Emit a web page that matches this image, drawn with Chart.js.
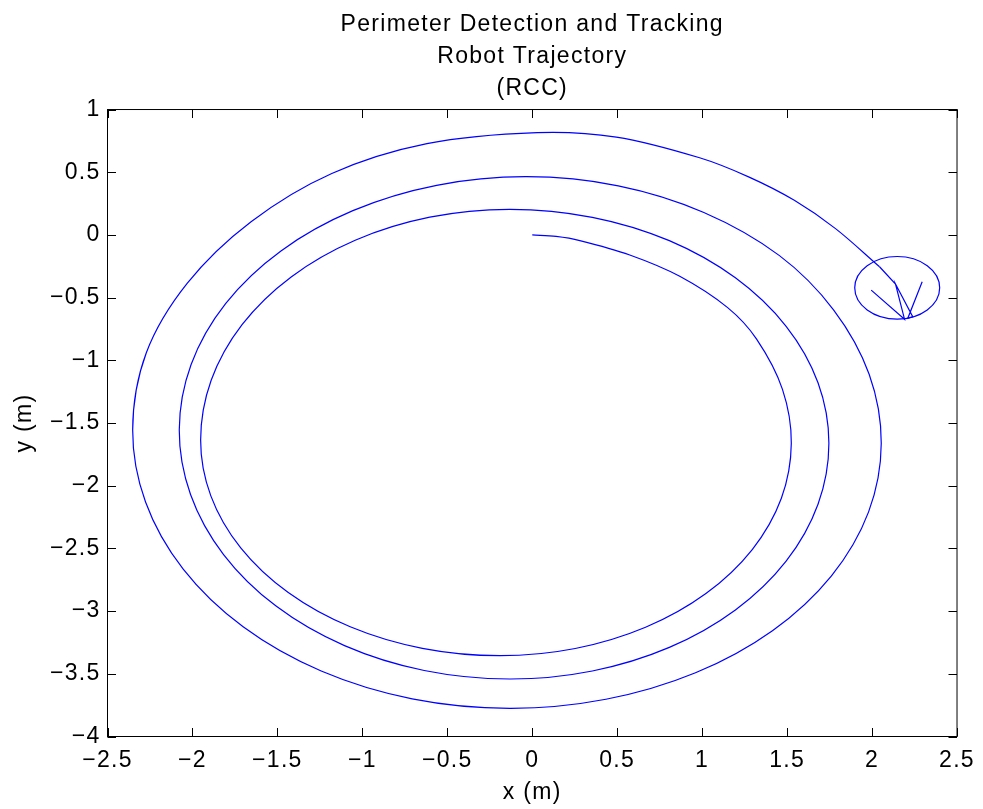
<!DOCTYPE html>
<html>
<head>
<meta charset="utf-8">
<title>Perimeter Detection and Tracking</title>
<script src="https://cdn.jsdelivr.net/npm/chart.js@4/dist/chart.umd.min.js"></script>
<style>
  html, body { margin: 0; padding: 0; background: #ffffff; overflow: hidden; }
  canvas { display: block; }
</style>
</head>
<body>
<canvas id="chart" width="983" height="809"></canvas>
<script>
// Robot path while it spirals outward searching for the perimeter (m)
const spiralX = [
  0, 0.14, 0.28, 0.574, 0.868, 1.15, 1.3204, 1.4727,
  1.5247, 1.4662, 1.2948, 1.0221, 0.6668, 0.2529,
  -0.1912, -0.6468, -1.0715, -1.4361, -1.7159, -1.8918,
  -1.9518, -1.8898, -1.708, -1.4189, -1.0421, -0.6033,
  -0.1324, 0.3537, 0.8068, 1.1957, 1.4942, 1.6819,
  1.7459, 1.6819, 1.4942, 1.1957, 0.8068, 0.3537,
  -0.1324, -0.6358, -1.105, -1.5079, -1.8169, -2.0113,
  -2.0776, -2.0079, -1.8038, -1.4791, -1.0559, -0.563,
  -0.0341, 0.5063, 1.010, 1.455, 1.7743, 1.9829,
  2.0541, 1.9796, 1.7611, 1.4137, 0.9609, 0.4335,
  -0.1324, -0.7068, -1.2421, -1.7017, -2.0544, -2.2761,
  -2.3518, -2.272, -2.03, -1.655, -1.18, -0.62,
  0.03, 0.495, 0.985, 1.2765, 1.5424, 1.785, 2.044
];
const spiralY = [
  0, -0.012, -0.045, -0.16, -0.33, -0.58, -0.831, -1.2318,
  -1.6619, -2.1003, -2.5088, -2.8596, -3.1287, -3.298,
  -3.3557, -3.2971, -3.1252, -2.8519, -2.4957, -2.0808,
  -1.6356, -1.1595, -0.7157, -0.3348, -0.0424, 0.1414,
  0.2041, 0.1405, -0.0459, -0.3424, -0.7289, -1.179,
  -1.6619, -2.1483, -2.6017, -2.991, -3.2896, -3.4774,
  -3.5415, -3.4738, -3.2754, -2.9599, -2.5487, -2.0697,
  -1.5558, -1.0331, -0.5458, -0.1275, 0.1934, 0.3952,
  0.4641, 0.3916, 0.179, -0.165, -0.5989, -1.1117,
  -1.6619, -2.2088, -2.7185, -3.1562, -3.4919, -3.7031,
  -3.7751, -3.6995, -3.4777, -3.1251, -2.6655, -2.1302,
  -1.5558, -0.942, -0.385, 0.105, 0.49, 0.728,
  0.816, 0.78, 0.615, 0.461, 0.276, 0.050, -0.254
];

// Straight back-and-forth moves once the perimeter is detected (m)
const trackX = [2.044, 2.138, 2.191, 1.995, 2.191, 2.138, 2.24, 2.21, 2.295];
const trackY = [-0.254, -0.392, -0.672, -0.44, -0.672, -0.392, -0.654, -0.666, -0.374];

// Sensing circle around the detected target: centre (x, y) and radius (m)
const sensorCenter = [2.148, -0.422];
const sensorRadius = [0.25];

// Axis tick labels
const xTickLabels = ['\u22122.5', '\u22122', '\u22121.5', '\u22121', '\u22120.5', '0', '0.5', '1', '1.5', '2', '2.5'];
const yTickLabels = ['\u22124', '\u22123.5', '\u22123', '\u22122.5', '\u22122', '\u22121.5', '\u22121', '\u22120.5', '0', '0.5', '1'];

const toPoints = (xs, ys) => xs.map((v, i) => ({ x: v, y: ys[i] }));

const FAMILY = "'Liberation Sans', Arial, Helvetica, sans-serif";
Chart.defaults.font.family = FAMILY;
Chart.defaults.font.size = 23;
Chart.defaults.color = '#000000';

const LINE_BLUE = '#0000ff';

// Boxed axes with inward tick marks on all four sides, plus the sensing circle
const framePlugin = {
  id: 'frame',
  beforeDraw(chart) {
    chart.ctx.letterSpacing = '1.3px';
  },
  afterDatasetsDraw(chart) {
    const { ctx, chartArea: a, scales: { x, y } } = chart;

    ctx.save();
    const cx = x.getPixelForValue(sensorCenter[0]);
    const cy = y.getPixelForValue(sensorCenter[1]);
    const rx = Math.abs(x.getPixelForValue(sensorCenter[0] + sensorRadius[0]) - cx);
    const ry = Math.abs(y.getPixelForValue(sensorCenter[1] + sensorRadius[0]) - cy);
    ctx.beginPath();
    ctx.ellipse(cx, cy, rx, ry, 0, 0, Math.PI * 2);
    ctx.strokeStyle = LINE_BLUE;
    ctx.lineWidth = 1.2;
    ctx.stroke();
    ctx.restore();

    ctx.save();
    ctx.strokeStyle = '#000000';
    ctx.lineWidth = 1;
    ctx.strokeRect(a.left, a.top, a.right - a.left, a.bottom - a.top);
    const len = 8.5;
    ctx.beginPath();
    x.ticks.forEach(t => {
      const px = Math.round(x.getPixelForValue(t.value)) + 0.5;
      ctx.moveTo(px, a.bottom); ctx.lineTo(px, a.bottom - len);
      ctx.moveTo(px, a.top); ctx.lineTo(px, a.top + len);
    });
    y.ticks.forEach(t => {
      const py = Math.round(y.getPixelForValue(t.value)) + 0.5;
      ctx.moveTo(a.left, py); ctx.lineTo(a.left + len, py);
      ctx.moveTo(a.right, py); ctx.lineTo(a.right - len, py);
    });
    ctx.stroke();
    ctx.restore();
  }
};

new Chart(document.getElementById('chart'), {
  type: 'scatter',
  data: {
    datasets: [
      {
        label: 'Spiral search',
        data: toPoints(spiralX, spiralY),
        showLine: true,
        borderColor: LINE_BLUE,
        borderWidth: 1.2,
        pointRadius: 0,
        tension: 0.33,
        fill: false
      },
      {
        label: 'Perimeter tracking',
        data: toPoints(trackX, trackY),
        showLine: true,
        borderColor: LINE_BLUE,
        borderWidth: 1.2,
        pointRadius: 0,
        tension: 0,
        fill: false
      }
    ]
  },
  options: {
    responsive: false,
    animation: false,
    devicePixelRatio: 1,
    layout: { padding: { left: 0, right: 25.5, top: 0, bottom: 0 } },
    plugins: {
      legend: { display: false },
      tooltip: { enabled: false },
      title: {
        display: true,
        fullSize: false,
        text: ['Perimeter Detection and Tracking', 'Robot Trajectory', '(RCC)'],
        color: '#000000',
        font: { size: 23, weight: 'normal', lineHeight: 1.38 },
        padding: { top: 9, bottom: 5.3 }
      }
    },
    scales: {
      x: {
        type: 'linear',
        position: 'bottom',
        min: -2.5,
        max: 2.5,
        afterFit(scale) { scale.height = 72.5; },
        grid: { display: false, drawTicks: false },
        border: { display: false },
        ticks: {
          stepSize: 0.5,
          padding: 10,
          autoSkip: false,
          maxRotation: 0,
          color: '#000000',
          font: { size: 23, lineHeight: 1.2 },
          callback: (v, i) => xTickLabels[i]
        },
        title: {
          display: true,
          text: 'x (m)',
          color: '#000000',
          font: { size: 23, lineHeight: 1.2 },
          padding: { top: 0, bottom: 3 }
        }
      },
      y: {
        type: 'linear',
        position: 'left',
        min: -4,
        max: 1,
        afterFit(scale) { scale.width = 107.5; },
        grid: { display: false, drawTicks: false },
        border: { display: false },
        ticks: {
          stepSize: 0.5,
          padding: 7,
          autoSkip: false,
          color: '#000000',
          font: { size: 23, lineHeight: 1.2 },
          callback: (v, i) => yTickLabels[i]
        },
        title: {
          display: true,
          text: 'y (m)',
          color: '#000000',
          font: { size: 23, lineHeight: 1.2 },
          padding: { top: 11, bottom: 0 }
        }
      }
    }
  },
  plugins: [framePlugin]
});
</script>
</body>
</html>
